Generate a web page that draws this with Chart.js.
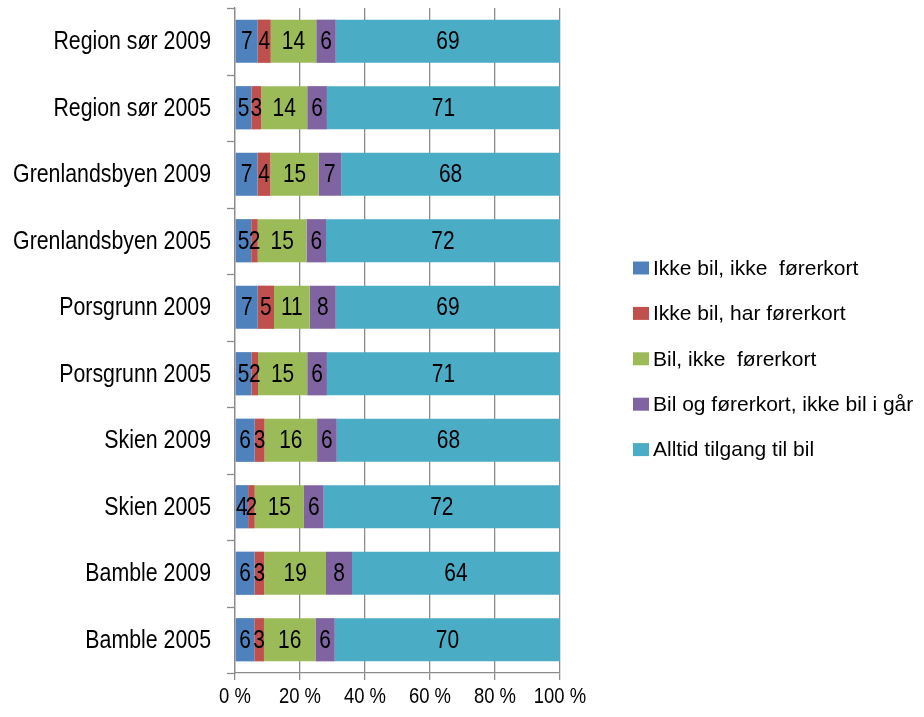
<!DOCTYPE html>
<html>
<head>
<meta charset="utf-8">
<script src="https://cdn.jsdelivr.net/npm/chart.js@4/dist/chart.umd.min.js"></script>
<style>
  html, body { margin: 0; padding: 0; background: #ffffff; }
  #wrap { width: 924px; height: 717px; }
</style>
</head>
<body>
<div id="wrap"><canvas id="c" width="924" height="717"></canvas></div>
<script>
// Categories (top to bottom)
const categories = [
  'Region sør 2009', 'Region sør 2005',
  'Grenlandsbyen 2009', 'Grenlandsbyen 2005',
  'Porsgrunn 2009', 'Porsgrunn 2005',
  'Skien 2009', 'Skien 2005',
  'Bamble 2009', 'Bamble 2005'
];
// Series values (percent, as labelled)
const ikkeBilIkkeForerkort = [7, 5, 7, 5, 7, 5, 6, 4, 6, 6];
const ikkeBilHarForerkort  = [4, 3, 4, 2, 5, 2, 3, 2, 3, 3];
const bilIkkeForerkort     = [14, 14, 15, 15, 11, 15, 16, 15, 19, 16];
const bilOgForerkort       = [6, 6, 7, 6, 8, 6, 6, 6, 8, 6];
const alltidTilgang        = [69, 71, 68, 72, 69, 71, 68, 72, 64, 70];

const seriesNames = [
  'Ikke bil, ikke  førerkort',
  'Ikke bil, har førerkort',
  'Bil, ikke  førerkort',
  'Bil og førerkort, ikke bil i går',
  'Alltid tilgang til bil'
];
const seriesColors = ['#4F81BD', '#C0504D', '#9BBB59', '#8064A2', '#4BACC6'];
const xTickValues = [0, 20, 40, 60, 80, 100];

const rawSeries = [ikkeBilIkkeForerkort, ikkeBilHarForerkort, bilIkkeForerkort, bilOgForerkort, alltidTilgang];
// 100% stacked: each row normalised to its total
const rowTotals = categories.map((_, i) => rawSeries.reduce((s, arr) => s + arr[i], 0));

const SANS = "'Liberation Sans', Arial, sans-serif";
const NARROW_X = 0.82; // horizontal squeeze to imitate a narrow face
const AXIS_GREY = '#8c8c8c';

function narrowText(ctx, text, x, y, align, size) {
  ctx.save();
  ctx.font = size + 'px ' + SANS;
  ctx.textAlign = align;
  ctx.textBaseline = 'middle';
  ctx.translate(x, y);
  ctx.scale(NARROW_X, 1);
  ctx.fillText(text, 0, 0);
  ctx.restore();
}

const datasets = rawSeries.map((arr, k) => ({
  label: seriesNames[k],
  data: arr.map((v, i) => v / rowTotals[i] * 100),
  raw: arr,
  backgroundColor: seriesColors[k],
  borderWidth: 0,
  barPercentage: 0.65,
  categoryPercentage: 1.0
}));

const valueLabels = {
  id: 'valueLabels',
  afterDatasetsDraw(chart) {
    const ctx = chart.ctx;
    ctx.save();
    ctx.fillStyle = '#000000';
    chart.data.datasets.forEach((ds, di) => {
      const meta = chart.getDatasetMeta(di);
      meta.data.forEach((el, i) => {
        const cx = (el.x + el.base) / 2;
        narrowText(ctx, String(ds.raw[i]), cx, el.y + 1, 'center', 25.5);
      });
    });
    ctx.restore();
  }
};

const axisLabels = {
  id: 'axisLabels',
  afterDraw(chart) {
    const ctx = chart.ctx;
    const ys = chart.scales.y;
    const xs = chart.scales.x;
    ctx.save();
    // category boundary tick marks on the y axis
    ctx.strokeStyle = AXIS_GREY;
    ctx.lineWidth = 1.3;
    const n = chart.data.labels.length;
    const band = (ys.bottom - ys.top) / n;
    for (let k = 0; k <= n; k++) {
      const yy = Math.round(ys.top + k * band) + 0.5;
      ctx.beginPath();
      ctx.moveTo(ys.right - 8, yy);
      ctx.lineTo(ys.right, yy);
      ctx.stroke();
    }
    ctx.fillStyle = '#000000';
    chart.data.labels.forEach((lab, i) => {
      narrowText(ctx, lab, 211, ys.getPixelForTick(i) + 1, 'right', 26);
    });
    xTickValues.forEach((v) => {
      narrowText(ctx, v + ' %', xs.getPixelForValue(v), 697, 'center', 22.5);
    });
    ctx.restore();
  }
};

const customLegend = {
  id: 'customLegend',
  afterDraw(chart) {
    const ctx = chart.ctx;
    ctx.save();
    ctx.font = '21px ' + SANS;
    ctx.textBaseline = 'middle';
    ctx.textAlign = 'left';
    chart.data.datasets.forEach((ds, k) => {
      const cy = 268 + k * 45.4;
      ctx.fillStyle = ds.backgroundColor;
      ctx.fillRect(633, cy - 6.5, 16, 13);
      ctx.fillStyle = '#000000';
      ctx.fillText(ds.label, 653, cy + 1);
    });
    ctx.restore();
  }
};

new Chart(document.getElementById('c'), {
  type: 'bar',
  data: { labels: categories, datasets: datasets },
  options: {
    indexAxis: 'y',
    responsive: false,
    animation: false,
    devicePixelRatio: 1,
    layout: { padding: { top: 8, right: 364, bottom: 0, left: 0 } },
    plugins: {
      legend: { display: false },
      tooltip: { enabled: false }
    },
    scales: {
      x: {
        stacked: true,
        min: 0,
        max: 100,
        afterBuildTicks(scale) { scale.ticks = xTickValues.map(v => ({ value: v })); },
        afterFit(scale) { scale.height = 44; },
        grid: { color: AXIS_GREY, lineWidth: 1.3, tickLength: 7, drawTicks: true, tickColor: AXIS_GREY, tickWidth: 1.3 },
        border: { display: true, color: AXIS_GREY, width: 1.3 },
        ticks: { display: true, padding: 0, font: { size: 1 }, callback: () => '' }
      },
      y: {
        stacked: true,
        afterFit(scale) { scale.width = 235; },
        grid: { display: false },
        border: { display: true, color: AXIS_GREY, width: 1.3 },
        ticks: { display: true, padding: 0, font: { size: 1 }, callback: () => '' }
      }
    }
  },
  plugins: [valueLabels, axisLabels, customLegend]
});
</script>
</body>
</html>
